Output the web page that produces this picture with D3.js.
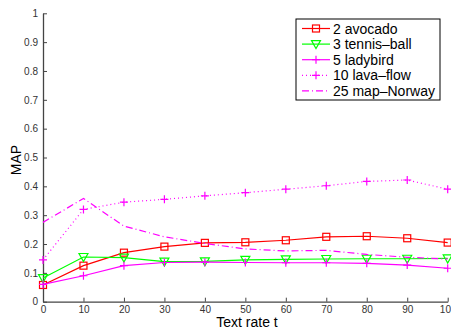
<!DOCTYPE html>
<html>
<head>
<meta charset="utf-8">
<script src="https://cdn.jsdelivr.net/npm/d3@7"></script>
<style>
body { margin: 0; background: #fff; }
svg { font-family: "Liberation Sans", Arial, sans-serif; }
</style>
</head>
<body>
<svg width="451" height="331"></svg>
<script>
var rates = [0, 10, 20, 30, 40, 50, 60, 70, 80, 90, 100];
var avocado = [0.058, 0.125, 0.17, 0.191, 0.204, 0.206, 0.213, 0.225, 0.227, 0.22, 0.205];
var tennisBall = [0.082, 0.155, 0.153, 0.139, 0.14, 0.145, 0.147, 0.148, 0.149, 0.149, 0.15];
var ladybird = [0.06, 0.09, 0.125, 0.136, 0.137, 0.136, 0.135, 0.135, 0.133, 0.127, 0.116];
var lavaFlow = [0.145, 0.32, 0.345, 0.355, 0.367, 0.378, 0.39, 0.402, 0.417, 0.422, 0.39];
var mapNorway = [0.275, 0.358, 0.262, 0.225, 0.202, 0.183, 0.176, 0.178, 0.164, 0.154, 0.148];
var seriesNames = ["2 avocado", "3 tennis\u2013ball", "5 ladybird", "10 lava\u2013flow", "25 map\u2013Norway"];
var yTicks = [0, 0.1, 0.2, 0.3, 0.4, 0.5, 0.6, 0.7, 0.8, 0.9, 1];

var series = [
  {name: seriesNames[0], values: avocado, color: "#ff0000", dash: null, marker: "square"},
  {name: seriesNames[1], values: tennisBall, color: "#00ff00", dash: null, marker: "triangle"},
  {name: seriesNames[2], values: ladybird, color: "#ff00ff", dash: null, marker: "plus"},
  {name: seriesNames[3], values: lavaFlow, color: "#ff00ff", dash: "1,3", marker: "plus"},
  {name: seriesNames[4], values: mapNorway, color: "#ff00ff", dash: "7,3,1,3", marker: null}
];

var svg = d3.select('svg');
var scaleX = d3.scaleLinear().domain([0, 100]).range([43, 447.7]);
var scaleY = d3.scaleLinear().domain([0, 1]).range([301.7, 13.3]);

// axes, MATLAB style ticks pointing inward
var xAxis = svg.append('g')
  .attr('transform', 'translate(0,' + scaleY(0) + ')')
  .call(d3.axisBottom(scaleX).tickValues(rates).tickSizeInner(-4).tickSizeOuter(0).tickPadding(4).tickFormat(d3.format('d')));
var yAxis = svg.append('g')
  .attr('transform', 'translate(' + scaleX(0) + ',0)')
  .call(d3.axisLeft(scaleY).tickValues(yTicks).tickSizeInner(-4).tickSizeOuter(0).tickPadding(5).tickFormat(function(d){ return d === 0 ? "0" : d === 1 ? "1" : d3.format('.1f')(d); }));
[xAxis, yAxis].forEach(function(a){
  a.selectAll('path').attr('stroke', '#444').attr('stroke-width', 1.3);
  a.selectAll('line').attr('stroke', '#444');
  a.selectAll('text').attr('fill', '#333').style('font-size', '10px');
});

svg.append('text')
  .attr('x', 247).attr('y', 327)
  .attr('text-anchor', 'middle')
  .style('font-size', '14px')
  .text('Text rate t');
svg.append('text')
  .attr('transform', 'translate(21,160) rotate(-90)')
  .attr('text-anchor', 'middle')
  .style('font-size', '14px')
  .text('MAP');

function drawMarker(g, type, x, y, color) {
  if (type === "square") {
    g.append('rect').attr('x', x - 3.5).attr('y', y - 3.5).attr('width', 7).attr('height', 7)
      .attr('fill', 'none').attr('stroke', color).attr('stroke-width', 1.2);
  } else if (type === "triangle") {
    g.append('path').attr('d', 'M' + (x - 4.5) + ',' + (y - 3.5) + 'L' + (x + 4.5) + ',' + (y - 3.5) + 'L' + x + ',' + (y + 4.5) + 'Z')
      .attr('fill', 'none').attr('stroke', color).attr('stroke-width', 1.2);
  } else if (type === "plus") {
    g.append('path').attr('d', 'M' + (x - 4) + ',' + y + 'H' + (x + 4) + 'M' + x + ',' + (y - 4) + 'V' + (y + 4))
      .attr('stroke', color).attr('stroke-width', 1.2);
  }
}

var line = d3.line()
  .x(function(d, i){ return scaleX(rates[i]); })
  .y(function(d){ return scaleY(d); });

series.forEach(function(s){
  var g = svg.append('g');
  g.append('path')
    .attr('d', line(s.values))
    .attr('fill', 'none')
    .attr('stroke', s.color)
    .attr('stroke-width', 1.2)
    .attr('stroke-dasharray', s.dash);
  if (s.marker) {
    s.values.forEach(function(v, i){
      drawMarker(g, s.marker, scaleX(rates[i]), scaleY(v), s.color);
    });
  }
});

// legend
var legend = svg.append('g');
legend.append('rect')
  .attr('x', 296).attr('y', 19).attr('width', 144).attr('height', 81)
  .attr('fill', '#fff').attr('stroke', '#000').attr('stroke-width', 1);
series.forEach(function(s, i){
  var y = 28.5 + i * 15.6;
  legend.append('line')
    .attr('x1', 302).attr('x2', 330).attr('y1', y).attr('y2', y)
    .attr('stroke', s.color).attr('stroke-width', 1.2)
    .attr('stroke-dasharray', s.dash);
  if (s.marker) drawMarker(legend, s.marker, 316, y, s.color);
  legend.append('text')
    .attr('x', 333).attr('y', y + 5)
    .style('font-size', '14px')
    .text(s.name);
});
</script>
</body>
</html>
